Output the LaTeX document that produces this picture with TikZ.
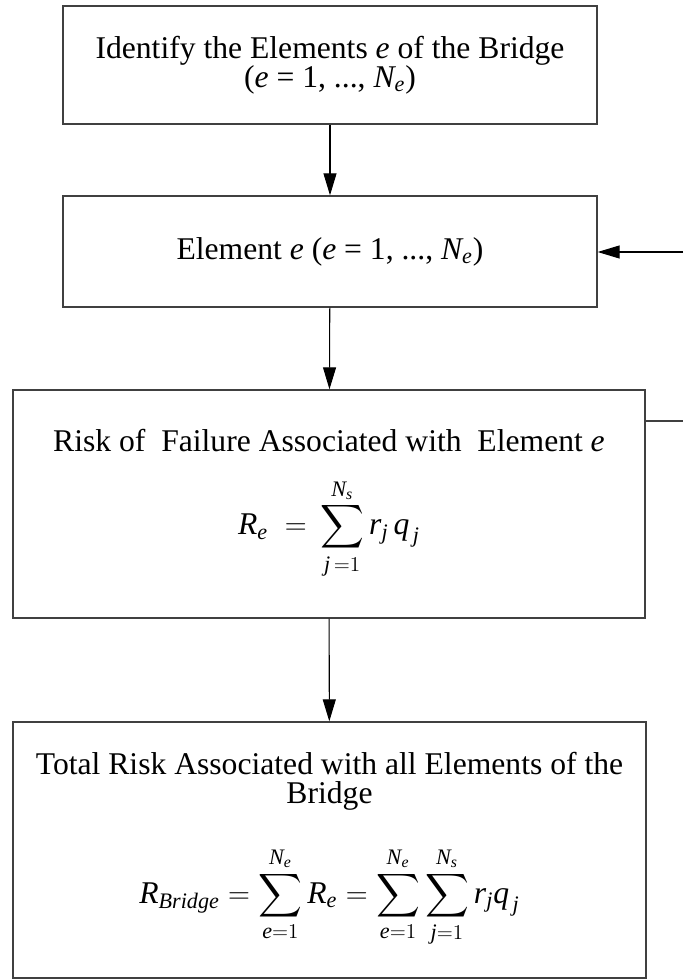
\documentclass[tikz,border=0pt]{standalone}
\usepackage{amsmath}
\usepackage{exscale}
\usepackage{fontspec}
\setmainfont{Liberation Serif}
\usetikzlibrary{arrows.meta, positioning}

\begin{document}
\begin{tikzpicture}[
    x=0.02cm, y=-0.02cm,
    arr/.style={-{Triangle[length=4.4mm, width=2.6mm]}, line width=0.6pt},
    box/.style={rectangle, draw=black!75, line width=0.8pt, align=center, inner sep=0pt, font=\fontsize{18}{16.5}\selectfont},
]
\useasboundingbox (0,0) rectangle (683,980);

% Steps
\node[box, minimum width=10.68cm, minimum height=2.36cm] (ident) at (330,65)
    {Identify the Elements \textit{e} of the Bridge\\(\textit{e} = 1, ..., $\textit{N}_{\textit{e}}$)};
\node[box, minimum width=10.68cm, minimum height=2.22cm] (elem) at (330,251.5)
    {Element \textit{e} (\textit{e} = 1, ..., $\textit{N}_{\textit{e}}$)};
\node[box, minimum width=12.64cm, minimum height=4.56cm] (risk) at (329,504)
    {Risk of~ Failure Associated with~ Element \textit{e}\\[5mm]
     $\displaystyle \textit{R}_{\textit{e}} \;=\, \sum_{\textit{j}\,=1}^{\textit{N}_{\textit{s}}} \textit{r}_{\textit{j}}\, \textit{q}_{\,\textit{j}}$};
\node[box, minimum width=12.66cm, minimum height=5.12cm] (total) at (329.5,850)
    {Total Risk Associated with all Elements of the\\Bridge\\[7mm]
     $\displaystyle \textit{R}_{\textit{Bridge}} = \sum_{\textit{e}=1}^{\textit{N}_{\textit{e}}} \textit{R}_{\textit{e}}
      = \sum_{\textit{e}=1}^{\textit{N}_{\textit{e}}}\sum_{\textit{j}=1}^{\textit{N}_{\textit{s}}} \textit{r}_{\textit{j}}\textit{q}_{\,\textit{j}}$};

% Flow
\draw[arr] (ident) -- (elem);
\draw[arr] (elem) -- (risk);
\draw[arr] (risk) -- (total);

% Loop back to next element
\coordinate (loopout) at (683,421);
\coordinate (loopin) at (683,252);
\draw[line width=0.6pt, black!75] (risk.east |- loopout) -- (loopout);
\draw[arr] (loopin) -- (elem.east |- loopin);

\end{tikzpicture}
\end{document}
